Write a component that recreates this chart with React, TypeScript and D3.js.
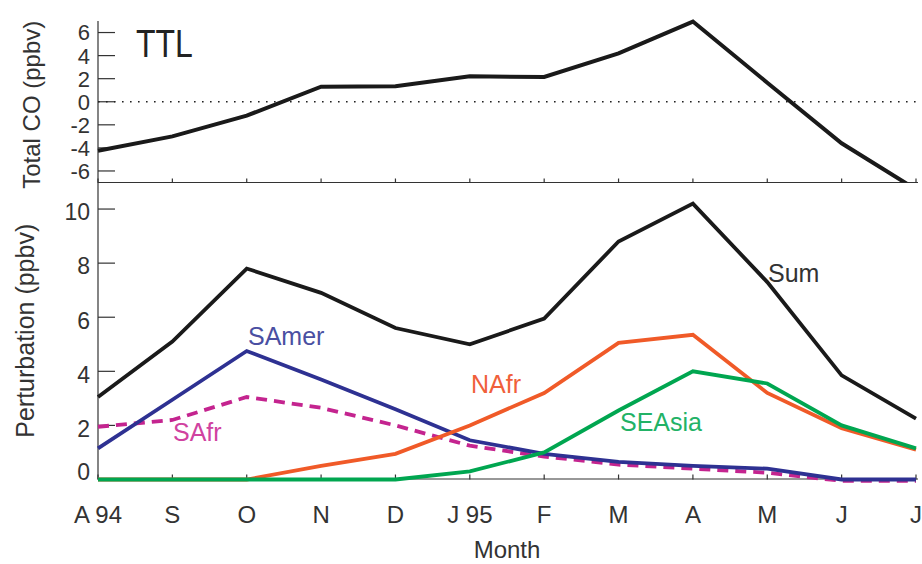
import React, { useEffect, useRef } from 'react';
import * as d3 from 'd3';

const months = ['A 94', 'S', 'O', 'N', 'D', 'J 95', 'F', 'M', 'A', 'M', 'J', 'J'];

// top panel
const totalCO = [-4.25, -3.0, -1.2, 1.3, 1.35, 2.2, 2.15, 4.2, 6.95, 1.65, -3.6, -7.6];
const topTicks = [-6, -4, -2, 0, 2, 4, 6];

// bottom panel
const sum = [3.05, 5.1, 7.8, 6.9, 5.6, 5.0, 5.95, 8.8, 10.2, 7.3, 3.85, 2.25];
const sAmer = [1.15, 2.95, 4.75, 3.7, 2.6, 1.45, 0.95, 0.65, 0.5, 0.4, 0.0, 0.0];
const sAfr = [1.95, 2.2, 3.05, 2.65, 2.0, 1.25, 0.85, 0.55, 0.4, 0.25, -0.05, -0.05];
const nAfr = [0, 0, 0, 0.5, 0.95, 2.0, 3.2, 5.05, 5.35, 3.2, 1.9, 1.1];
const seAsia = [0, 0, 0, 0, 0, 0.3, 1.0, 2.55, 4.0, 3.55, 2.0, 1.15];
const bottomTicks = [0, 2, 4, 6, 8, 10];

const FONT = '"Liberation Sans", Arial, Helvetica, sans-serif';

const App: React.FC = () => {
  const svgRef = useRef<SVGSVGElement | null>(null);

  useEffect(() => {
    if (!svgRef.current) return;
    const width = 922, height = 564;
    const svg = d3.select(svgRef.current)
      .attr('width', width)
      .attr('height', height);
    svg.selectAll('*').remove();

    const x = d3.scalePoint<string>()
      .domain(months.map((_, i) => String(i)))
      .range([98, 916]);
    const xi = (i: number) => x(String(i)) as number;

    const yTop = d3.scaleLinear().domain([-7, 7]).range([182.5, 21]);
    const yBot = d3.scaleLinear().domain([0, 11]).range([479.5, 182]);

    const axisColor = '#333';

    svg.append('defs').append('clipPath').attr('id', 'topclip')
      .append('rect').attr('x', 90).attr('y', 0).attr('width', 840).attr('height', 182.5);

    // ---- top panel ----
    const top = svg.append('g');
    top.append('line')
      .attr('x1', 98).attr('x2', 98).attr('y1', yTop(7)).attr('y2', yTop(-7))
      .attr('stroke', axisColor).attr('stroke-width', 1.2);
    top.append('line')
      .attr('x1', 98).attr('x2', 918).attr('y1', yTop(-7)).attr('y2', yTop(-7))
      .attr('stroke', axisColor).attr('stroke-width', 1.2);
    top.selectAll('.ytick').data(topTicks).join('line')
      .attr('x1', 98).attr('x2', 115).attr('y1', d => yTop(d)).attr('y2', d => yTop(d))
      .attr('stroke', axisColor).attr('stroke-width', 1.2);
    top.selectAll('.ylab').data(topTicks).join('text')
      .attr('x', 90).attr('y', d => yTop(d)).attr('dy', '0.36em')
      .attr('text-anchor', 'end').attr('font-family', FONT).attr('font-size', 22)
      .attr('fill', '#333').text(d => d);
    top.selectAll('.xtick').data(months.map((_, i) => i)).join('line')
      .attr('x1', d => xi(d)).attr('x2', d => xi(d))
      .attr('y1', yTop(-7)).attr('y2', yTop(-7) - 4)
      .attr('stroke', axisColor).attr('stroke-width', 1.2);
    top.append('line')
      .attr('x1', 98).attr('x2', 918).attr('y1', yTop(0)).attr('y2', yTop(0))
      .attr('stroke', '#222').attr('stroke-width', 1.6).attr('stroke-dasharray', '1.6 6.4');

    const topLine = d3.line<number>().x((_, i) => xi(i)).y(d => yTop(d));
    top.append('path').datum(totalCO)
      .attr('clip-path', 'url(#topclip)')
      .attr('d', topLine).attr('fill', 'none')
      .attr('stroke', '#1a1a1a').attr('stroke-width', 4).attr('stroke-linejoin', 'miter');

    // title is narrow and tall in the original
    top.append('text')
      .attr('transform', 'translate(136,57) scale(0.82,1)')
      .attr('font-family', FONT).attr('font-size', 39).attr('fill', '#222')
      .text('TTL');

    top.append('text')
      .attr('transform', `translate(40,${(yTop(7) + yTop(-7)) / 2 + 3}) rotate(-90)`)
      .attr('text-anchor', 'middle').attr('font-family', FONT).attr('font-size', 24)
      .attr('fill', '#333').text('Total CO (ppbv)');

    // ---- bottom panel ----
    const bot = svg.append('g');
    bot.append('line')
      .attr('x1', 98).attr('x2', 98).attr('y1', 182).attr('y2', yBot(0))
      .attr('stroke', axisColor).attr('stroke-width', 1.2);
    bot.append('line')
      .attr('x1', 98).attr('x2', 918).attr('y1', yBot(0) - 0.5).attr('y2', yBot(0) - 0.5)
      .attr('stroke', axisColor).attr('stroke-width', 1.2);
    bot.selectAll('.ytick').data(bottomTicks.filter(d => d > 0)).join('line')
      .attr('x1', 98).attr('x2', 115).attr('y1', d => yBot(d)).attr('y2', d => yBot(d))
      .attr('stroke', axisColor).attr('stroke-width', 1.2);
    bot.selectAll('.ylab').data(bottomTicks).join('text')
      .attr('x', 90).attr('y', d => (d === 0 ? yBot(d) - 8 : yBot(d) + 3)).attr('dy', '0.36em')
      .attr('text-anchor', 'end').attr('font-family', FONT).attr('font-size', 23)
      .attr('fill', '#333').text(d => d);
    bot.selectAll('.xtick').data(months.map((_, i) => i)).join('line')
      .attr('x1', d => xi(d)).attr('x2', d => xi(d))
      .attr('y1', yBot(0)).attr('y2', yBot(0) - 5)
      .attr('stroke', axisColor).attr('stroke-width', 1.2);
    bot.selectAll('.xlab').data(months).join('text')
      .attr('x', (_, i) => xi(i)).attr('y', 523)
      .attr('text-anchor', (_, i) => (i === 11 ? 'end' : 'middle'))
      .attr('dx', (_, i) => (i === 11 ? 6 : 0))
      .attr('font-family', FONT).attr('font-size', 24)
      .attr('fill', '#333').text(d => d);

    bot.append('text').attr('x', 507).attr('y', 558)
      .attr('text-anchor', 'middle').attr('font-family', FONT).attr('font-size', 24)
      .attr('fill', '#333').text('Month');

    bot.append('text')
      .attr('transform', `translate(34,${(yBot(11) + yBot(0)) / 2}) rotate(-90)`)
      .attr('text-anchor', 'middle').attr('font-family', FONT).attr('font-size', 25)
      .attr('fill', '#333').text('Perturbation (ppbv)');

    const botLine = d3.line<number>().x((_, i) => xi(i)).y(d => yBot(d));
    const series = [
      { name: 'Sum', values: sum, color: '#1a1a1a', dash: null, lx: 768, ly: 282, lc: '#333' },
      { name: 'SAfr', values: sAfr, color: '#c4248f', dash: '11 7', lx: 173, ly: 441, lc: '#d042a0' },
      { name: 'SAmer', values: sAmer, color: '#2e3192', dash: null, lx: 248, ly: 345, lc: '#4a4fa2' },
      { name: 'NAfr', values: nAfr, color: '#f05a28', dash: null, lx: 471, ly: 393, lc: '#f0603a' },
      { name: 'SEAsia', values: seAsia, color: '#00a650', dash: null, lx: 620, ly: 431, lc: '#22b266' },
    ];

    bot.selectAll('.series').data(series).join('path')
      .attr('d', d => botLine(d.values))
      .attr('fill', 'none')
      .attr('stroke', d => d.color)
      .attr('stroke-width', 3.8)
      .attr('stroke-dasharray', d => d.dash);

    bot.selectAll('.slab').data(series).join('text')
      .attr('x', d => d.lx).attr('y', d => d.ly)
      .attr('font-family', FONT).attr('font-size', 25)
      .attr('fill', d => d.lc).text(d => d.name);
  }, []);

  return <svg ref={svgRef} style={{ position: 'absolute', left: 0, top: 0 }}></svg>;
};

export default App;
